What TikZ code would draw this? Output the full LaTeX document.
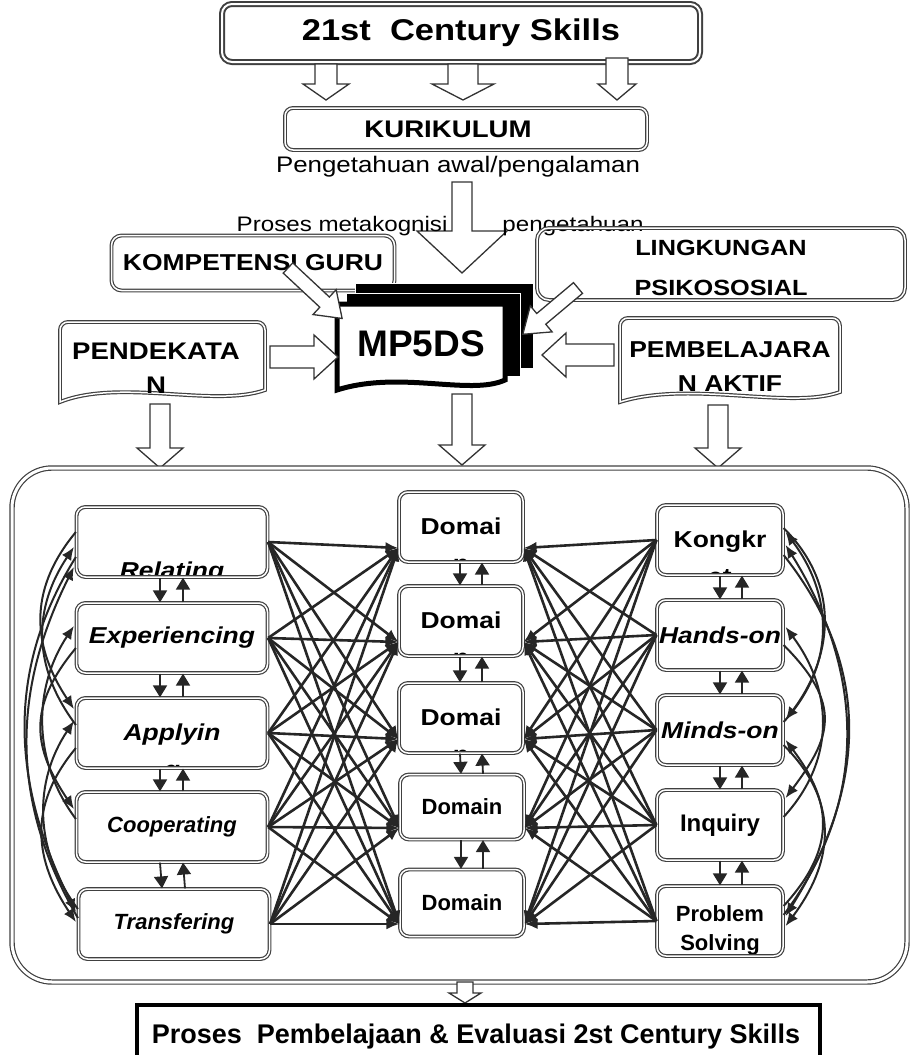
\documentclass[tikz,border=0pt]{standalone}
\usepackage{fontspec}
\setmainfont{Liberation Sans}[FakeStretch=1.15]
\newfontfamily\narrowsf{Liberation Sans}[FakeStretch=1.0]
\usetikzlibrary{arrows.meta,calc}
\tikzset{>={Latex[width=11pt,length=13pt]}}
\tikzset{
  frame/.style={draw=black!75, double=white, double distance=1.5pt, line width=1.2pt},
  colbox/.style={frame, fill=white, rounded corners=9pt, minimum height=70pt, inner sep=2pt, align=center},
  cut/.style n args={3}{path picture={\node[inner sep=0pt, minimum width=0pt, minimum height=0pt,
      draw=none, fill=none, align=center, anchor=north, font=#2]
      at ([yshift=#1]path picture bounding box.north) {#3};}},
  link/.style={->, line width=2.6pt, draw=black!85},
  curvelink/.style={->, line width=2pt, draw=black!85},
  pair/.style={-{Triangle[width=14pt,length=12pt]}, line width=1.8pt, draw=black!85},
  hollow/.style={draw=black!80, line width=1.3pt, fill=white},
  big/.style={font=\bfseries\fontsize{23}{27}\selectfont},
  slim/.style={font=\narrowsf\bfseries\fontsize{22}{26}\selectfont},
}
% tail, angle, length, half shaft, half head, head length
\newcommand\hollowarrow[6]{%
  \begin{scope}[shift={#1}, rotate=#2]
    \draw[hollow] (0,-#4) -- ({#3-#6},-#4) -- ({#3-#6},-#5) -- (#3,0)
      -- ({#3-#6},#5) -- ({#3-#6},#4) -- (0,#4) -- cycle;
  \end{scope}}

\begin{document}
\begin{tikzpicture}[x=1pt, y=-1pt, font=\bfseries\fontsize{23}{27}\selectfont]
  \useasboundingbox (0,0) rectangle (916,1055);

  %% top part
  \node[frame, line width=2pt, double distance=2pt, rounded corners=10pt, minimum width=478pt,
    minimum height=58pt, font=\bfseries\fontsize{30}{32}\selectfont] (skills) at (461,33) {21st~ Century Skills};
  \hollowarrow{(326,64)}{-90}{36}{11}{23}{16}
  \hollowarrow{(463,64)}{-90}{36}{15}{31}{16}
  \hollowarrow{(617,58)}{-90}{42}{11}{19}{16}
  \node[frame, rounded corners=8pt, minimum width=362pt, minimum height=42pt,
    font=\bfseries\fontsize{24}{27}\selectfont] (kurikulum) at (466,129) {\hspace*{-36pt}KURIKULUM};
  \node[font=\fontsize{22.5}{26}\selectfont] (awal) at (458,167) {Pengetahuan awal/pengalaman};
  \hollowarrow{(462,182)}{-90}{91}{10}{45}{42}
  \node[font=\fontsize{21}{24}\selectfont, anchor=east] (proses) at (451,226) {Proses metakognisi};
  \node[font=\fontsize{21}{24}\selectfont] (tahu) at (573,226) {pengetahuan};

  \node[frame, rounded corners=10pt, minimum width=283pt, minimum height=55pt] (guru) at (253,263) {KOMPETENSI GURU};
  \node[frame, rounded corners=12pt, minimum width=368pt, minimum height=72pt,
    cut={-12pt}{\bfseries\fontsize{22}{40}\selectfont}{LINGKUNGAN\\PSIKOSOSIAL}] (lingkungan) at (721,264) {};

  %% MP5DS stack
  \draw[white, fill=black, line width=1pt] (355,283) -- (533,283) -- (533,368) -- (355,368) -- cycle;
  \draw[white, fill=black, line width=1pt] (346,293) -- (520,293) -- (520,376) -- (346,376) -- cycle;
  \draw[line width=5pt, fill=white] (337,304) -- (505,304) -- (505,380)
    .. controls (470,396) and (400,370) .. (337,390) -- cycle;
  \node[font=\narrowsf\bfseries\fontsize{37}{40}\selectfont] (mp) at (421,344) {MP5DS};

  \draw[frame] (60,402) [rounded corners=8pt]-- (60,322) -- (265,322) [sharp corners]-- (265,390)
    .. controls (215,408) and (120,378) .. (60,402) -- cycle;
  \node[align=center, font=\bfseries\fontsize{24}{34}\selectfont] (pendekatan) at (156,368) {PENDEKATA\\N};
  \draw[frame] (620,402) [rounded corners=8pt]-- (620,318) -- (840,318) [sharp corners]-- (840,392)
    .. controls (790,410) and (690,380) .. (620,402) -- cycle;
  \node[align=center, font=\bfseries\fontsize{23}{34}\selectfont] (pembelajaran) at (730,367) {PEMBELAJARA\\N AKTIF};

  \hollowarrow{(288,268)}{-43}{74}{7}{17}{24}     % guru -> mp
  \hollowarrow{(578,288)}{-140}{72}{7}{17}{24}    % lingkungan -> mp
  \hollowarrow{(270,357)}{0}{68}{11}{22}{24}      % pendekatan -> mp
  \hollowarrow{(614,355)}{180}{72}{11}{22}{24}    % pembelajaran -> mp
  \hollowarrow{(160,404)}{-90}{64}{10}{23}{20}
  \hollowarrow{(462,394)}{-90}{71}{10}{23}{20}
  \hollowarrow{(718,405)}{-90}{63}{10}{23}{20}

  %% big frame
  \draw[frame, double distance=3pt, rounded corners=40pt] (12,468) rectangle (907,982);

  %% left column
  \node[colbox, minimum width=191pt, cut={-54pt}{\bfseries\itshape\fontsize{23}{27}\selectfont}{Relating}] (rel) at (172,542) {};
  \node[colbox, minimum width=191pt, big] (exper) at (172,638) {\itshape Experiencing};
  \node[colbox, minimum width=191pt, cut={-25pt}{\bfseries\itshape\fontsize{23}{37}\selectfont}{Applyin\\g}] (apply) at (172,733) {};
  \node[colbox, minimum width=191pt, slim] (coop) at (172,827) {\itshape Cooperating};
  \node[colbox, minimum width=191pt, slim] (trans) at (174,924) {\itshape Transfering};

  %% middle column
  \node[colbox, minimum width=124pt, cut={-25pt}{\bfseries\fontsize{23}{37}\selectfont}{Domai\\n}] (dom1) at (461,527) {};
  \node[colbox, minimum width=124pt, cut={-25pt}{\bfseries\fontsize{23}{37}\selectfont}{Domai\\n}] (dom2) at (461,621) {};
  \node[colbox, minimum width=124pt, cut={-25pt}{\bfseries\fontsize{23}{37}\selectfont}{Domai\\n}] (dom3) at (461,718) {};
  \node[colbox, minimum width=124pt, minimum height=65pt, slim] (dom4) at (462,807) {Domain};
  \node[colbox, minimum width=124pt, minimum height=67pt, slim] (dom5) at (462,903) {Domain};

  %% right column
  \node[colbox, minimum width=126pt, cut={-25pt}{\bfseries\fontsize{23}{37}\selectfont}{Kongkr\\et}] (kong) at (720,540) {};
  \node[colbox, minimum width=126pt, big] (hands) at (720,635) {\itshape Hands-on};
  \node[colbox, minimum width=126pt, big] (minds) at (720,730) {\itshape Minds-on};
  \node[colbox, minimum width=126pt, font=\narrowsf\bfseries\fontsize{24}{27}\selectfont] (inq) at (720,825) {Inquiry};
  \node[colbox, minimum width=126pt, cut={-19pt}{\narrowsf\bfseries\fontsize{22}{29}\selectfont}{Problem\\Solving}] (prob) at (720,921) {};

  %% links to the domains
  \foreach \l in {rel,exper,apply,coop,trans}
    \foreach \m in {dom1,dom2,dom3,dom4,dom5}
      \draw[link] (\l.east) -- ($(\m.west)+(0,21)$);
  \foreach \r in {kong,hands,minds,inq,prob}
    \foreach \m in {dom1,dom2,dom3,dom4,dom5}
      \draw[link] (\r.west) -- ($(\m.east)+(0,21)$);

  %% up and down pairs
  \foreach \a/\b in {rel/exper,exper/apply,apply/coop,coop/trans}{
    \draw[pair] ($(\a.south)+(-12,0)$) -- ($(\b.north)+(-12,0)$);
    \draw[pair] ($(\b.north)+(11,0)$) -- ($(\a.south)+(11,0)$);}
  \foreach \a/\b in {dom1/dom2,dom2/dom3,dom3/dom4,dom4/dom5}{
    \draw[pair] ($(\a.south)+(-1,0)$) -- ($(\b.north)+(-1,0)$);
    \draw[pair] ($(\b.north)+(21,0)$) -- ($(\a.south)+(21,0)$);}
  \foreach \a/\b in {kong/hands,hands/minds,minds/inq,inq/prob}{
    \draw[pair] ($(\a.south)+(0,0)$) -- ($(\b.north)+(0,0)$);
    \draw[pair] ($(\b.north)+(22,0)$) -- ($(\a.south)+(22,0)$);}

  %% curves, left side
  \draw[curvelink] ($(apply.west)+(0,-8)$) .. controls +(-45,-60) and +(-40,60) .. ($(rel.west)+(-2,5)$);
  \draw[curvelink] ($(trans.west)+(0,-6)$) .. controls +(-70,-120) and +(-60,120) .. ($(rel.west)+(-2,25)$);
  \draw[curvelink] ($(coop.west)+(0,-8)$) .. controls +(-45,-60) and +(-40,60) .. ($(exper.west)+(-2,-12)$);
  \draw[curvelink] ($(trans.west)+(0,-15)$) .. controls +(-45,-60) and +(-40,60) .. ($(apply.west)+(-2,-12)$);
  \draw[curvelink] ($(rel.west)+(0,-10)$) .. controls +(-50,60) and +(-40,-60) .. ($(apply.west)+(-2,-24)$);
  \draw[curvelink] ($(exper.west)+(0,10)$) .. controls +(-50,60) and +(-40,-60) .. ($(coop.west)+(-2,-18)$);
  \draw[curvelink] ($(rel.west)+(0,15)$) .. controls +(-75,120) and +(-60,-120) .. ($(trans.west)+(-2,-12)$);
  \draw[curvelink] ($(apply.west)+(0,15)$) .. controls +(-50,60) and +(-40,-60) .. ($(trans.west)+(-2,-2)$);

  %% curves, right side
  \draw[curvelink] ($(minds.east)+(0,-8)$) .. controls +(55,-60) and +(45,60) .. ($(kong.east)+(2,-8)$);
  \draw[curvelink] ($(prob.east)+(0,-6)$) .. controls +(90,-120) and +(75,120) .. ($(kong.east)+(2,5)$);
  \draw[curvelink] ($(inq.east)+(0,-8)$) .. controls +(55,-60) and +(45,60) .. ($(hands.east)+(2,-8)$);
  \draw[curvelink] ($(prob.east)+(0,-15)$) .. controls +(55,-60) and +(45,60) .. ($(minds.east)+(2,10)$);
  \draw[curvelink] ($(kong.east)+(0,-12)$) .. controls +(60,60) and +(45,-60) .. ($(minds.east)+(2,-10)$);
  \draw[curvelink] ($(hands.east)+(0,10)$) .. controls +(60,60) and +(45,-60) .. ($(inq.east)+(2,-27)$);
  \draw[curvelink] ($(kong.east)+(0,15)$) .. controls +(95,120) and +(75,-120) .. ($(prob.east)+(2,-5)$);
  \draw[curvelink] ($(minds.east)+(0,15)$) .. controls +(60,60) and +(45,-60) .. ($(prob.east)+(2,5)$);

  %% bottom
  \hollowarrow{(465,982)}{-90}{21}{8}{16}{10}
  \draw[line width=4.5pt] (137,1005) rectangle (820,1080);
  \node[anchor=base, font=\narrowsf\bfseries\fontsize{27}{30}\selectfont] (evaluasi) at (476,1043)
    {Proses~ Pembelajaan \& Evaluasi 2st Century Skills};
\end{tikzpicture}
\end{document}
